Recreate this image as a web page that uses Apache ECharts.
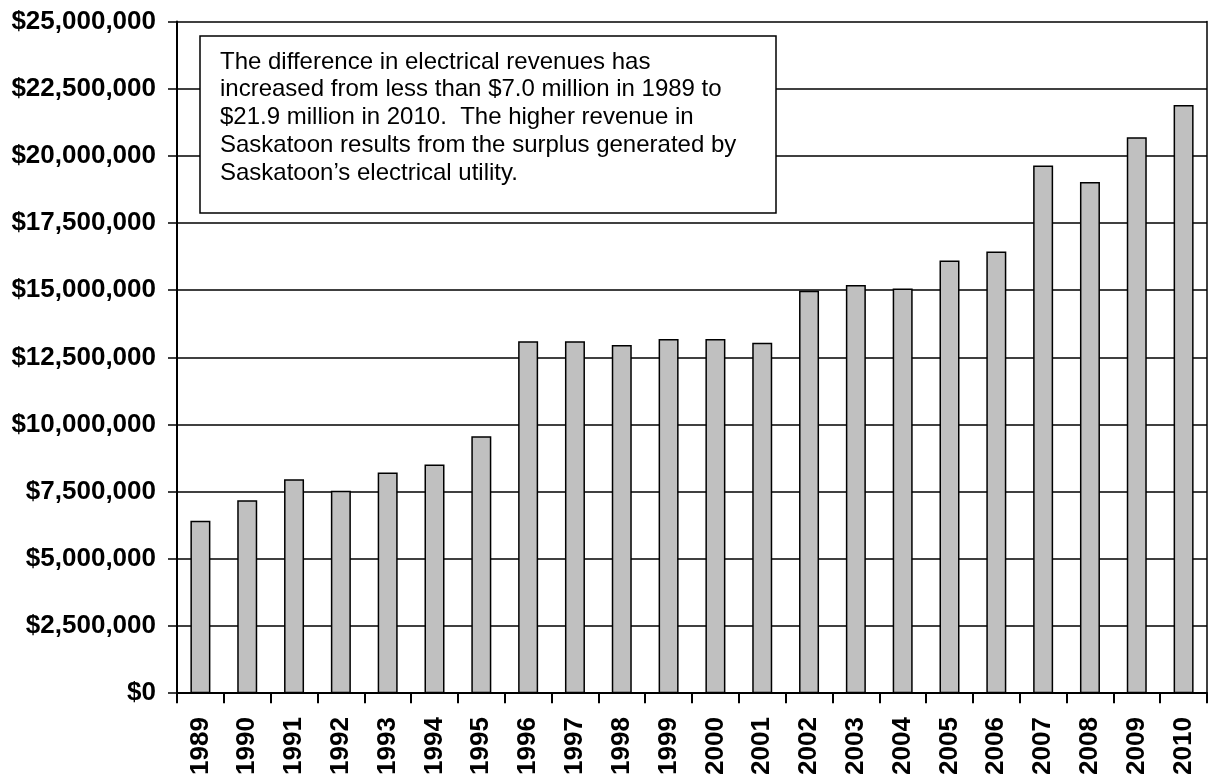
<!DOCTYPE html>
<html>
<head>
<meta charset="utf-8">
<script src="https://cdn.jsdelivr.net/npm/echarts@6/dist/echarts.min.js"></script>
<style>
html,body{margin:0;padding:0;background:#fff;}
#chart{width:1211px;height:778px;}
</style>
</head>
<body>
<div id="chart"></div>
<script>
const years = ['1989','1990','1991','1992','1993','1994','1995','1996','1997','1998','1999','2000','2001','2002','2003','2004','2005','2006','2007','2008','2009','2010'];
const revenueDifference = [6420000,7180000,7960000,7530000,8210000,8510000,9560000,13100000,13100000,12960000,13180000,13180000,13040000,14980000,15190000,15060000,16100000,16440000,19640000,19030000,20690000,21890000];
const yMin = 0, yMax = 25000000, yStep = 2500000;
const noteText = 'The difference in electrical revenues has\nincreased from less than $7.0 million in 1989 to\n$21.9 million in 2010.  The higher revenue in\nSaskatoon results from the surplus generated by\nSaskatoon\u2019s electrical utility.';

function money(v){
  return '$' + Math.round(v).toString().replace(/\B(?=(\d{3})+(?!\d))/g, ',');
}

const chart = echarts.init(document.getElementById('chart'), null, {renderer:'canvas'});
chart.setOption({
  animation:false,
  backgroundColor:'#ffffff',
  grid:{left:177, right:4, top:21.5, bottom:79, containLabel:false},
  xAxis:{
    type:'category',
    data:years,
    boundaryGap:true,
    axisLine:{show:true, lineStyle:{color:'#000', width:2}},
    axisTick:{show:true, alignWithLabel:false, length:10, lineStyle:{color:'#000', width:2}},
    axisLabel:{rotate:90, margin:24, color:'#000', fontFamily:'Liberation Sans, Arial, sans-serif', fontWeight:'bold', fontSize:26, interval:0},
    splitLine:{show:false}
  },
  yAxis:[{
    type:'value',
    min:yMin, max:yMax, interval:yStep,
    axisLine:{show:true, lineStyle:{color:'#000', width:2}},
    axisTick:{show:true, length:9, lineStyle:{color:'#000', width:1.5}},
    axisLabel:{margin:21, color:'#000', fontFamily:'Liberation Sans, Arial, sans-serif', fontWeight:'bold', fontSize:26, formatter:money},
    splitLine:{show:true, lineStyle:{color:'#000', width:1.5}}
  },{
    type:'value',
    position:'right',
    min:yMin, max:yMax, interval:yStep,
    axisLine:{show:true, lineStyle:{color:'#000', width:1.5}},
    axisTick:{show:false},
    axisLabel:{show:false},
    splitLine:{show:false}
  }],
  series:[{
    type:'bar',
    data:revenueDifference,
    barWidth:20,
    itemStyle:{color:'#c0c0c0', borderColor:'#000', borderWidth:1.5},
    z:3
  }],
  graphic:[{
    type:'rect',
    shape:{x:200, y:36, width:576, height:177},
    style:{fill:'#fff', stroke:'#000', lineWidth:1.5},
    z:100
  },{
    type:'text',
    x:220, y:48,
    style:{
      text:noteText,
      fill:'#000',
      font:'24px "Liberation Sans", Arial, sans-serif',
      lineHeight:27.75,
      verticalAlign:'top'
    },
    z:101
  }]
});
</script>
</body>
</html>
